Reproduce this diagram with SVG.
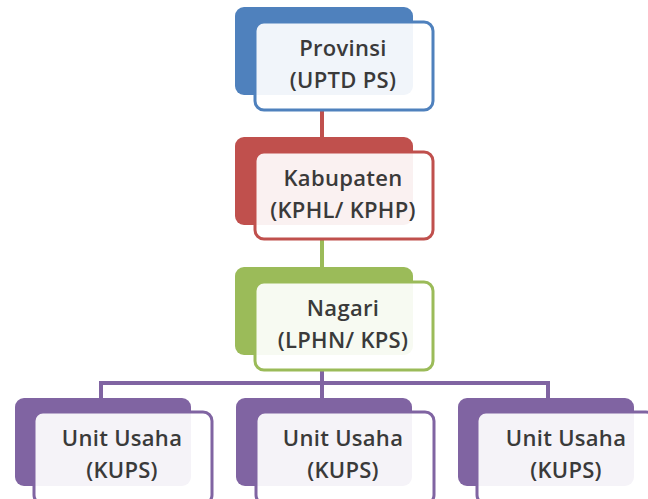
<svg xmlns="http://www.w3.org/2000/svg" width="648" height="499" viewBox="0 0 648 499">
<style>
.t{font-family:"Open Sans","Liberation Sans",sans-serif;font-size:22px;font-weight:600;letter-spacing:0.3px;fill:#3a3a3a;text-anchor:middle}
.f{fill:#ffffff;fill-opacity:0.92;stroke-width:3}
.c{fill:none;stroke-width:4}
</style>
<rect width="648" height="499" fill="#ffffff"/>
<g id="connectors">
<line class="c" x1="322" y1="110" x2="322" y2="152" stroke="#C0504D"/>
<line class="c" x1="322" y1="239" x2="322" y2="282" stroke="#9BBB59"/>
<polyline class="c" points="322,370 322,383" stroke="#8064A2"/>
<polyline class="c" points="101,398 101,383 548,383 548,398" stroke="#8064A2"/>
<line class="c" x1="322" y1="383" x2="322" y2="398" stroke="#8064A2"/>
</g>
<g id="provinsi">
<rect x="235" y="7" width="178" height="88" rx="9" fill="#4F81BD"/>
<rect class="f" x="255" y="22" width="178" height="88" rx="9" stroke="#4F81BD"/>
<text class="t" x="343" y="56">Provinsi</text>
<text class="t" x="343" y="88">(UPTD PS)</text>
</g>
<g id="kabupaten">
<rect x="235" y="137" width="178" height="88" rx="9" fill="#C0504D"/>
<rect class="f" x="255" y="152" width="178" height="87" rx="9" stroke="#C0504D"/>
<text class="t" x="343" y="186">Kabupaten</text>
<text class="t" x="343" y="218">(KPHL/ KPHP)</text>
</g>
<g id="nagari">
<rect x="235" y="267" width="178" height="88" rx="9" fill="#9BBB59"/>
<rect class="f" x="255" y="282" width="178" height="88" rx="9" stroke="#9BBB59"/>
<text class="t" x="343" y="316">Nagari</text>
<text class="t" x="343" y="348">(LPHN/ KPS)</text>
</g>
<g id="kups1">
<rect x="15" y="398" width="176" height="88" rx="9" fill="#8064A2"/>
<rect class="f" x="34" y="412" width="178" height="92" rx="9" stroke="#8064A2"/>
<text class="t" x="122" y="446">Unit Usaha</text>
<text class="t" x="122" y="478">(KUPS)</text>
</g>
<g id="kups2">
<rect x="236" y="398" width="176" height="88" rx="9" fill="#8064A2"/>
<rect class="f" x="256" y="412" width="178" height="92" rx="9" stroke="#8064A2"/>
<text class="t" x="343" y="446">Unit Usaha</text>
<text class="t" x="343" y="478">(KUPS)</text>
</g>
<g id="kups3">
<rect x="458" y="398" width="176" height="88" rx="9" fill="#8064A2"/>
<rect class="f" x="477" y="412" width="178" height="92" rx="9" stroke="#8064A2"/>
<text class="t" x="566" y="446">Unit Usaha</text>
<text class="t" x="566" y="478">(KUPS)</text>
</g>
</svg>
